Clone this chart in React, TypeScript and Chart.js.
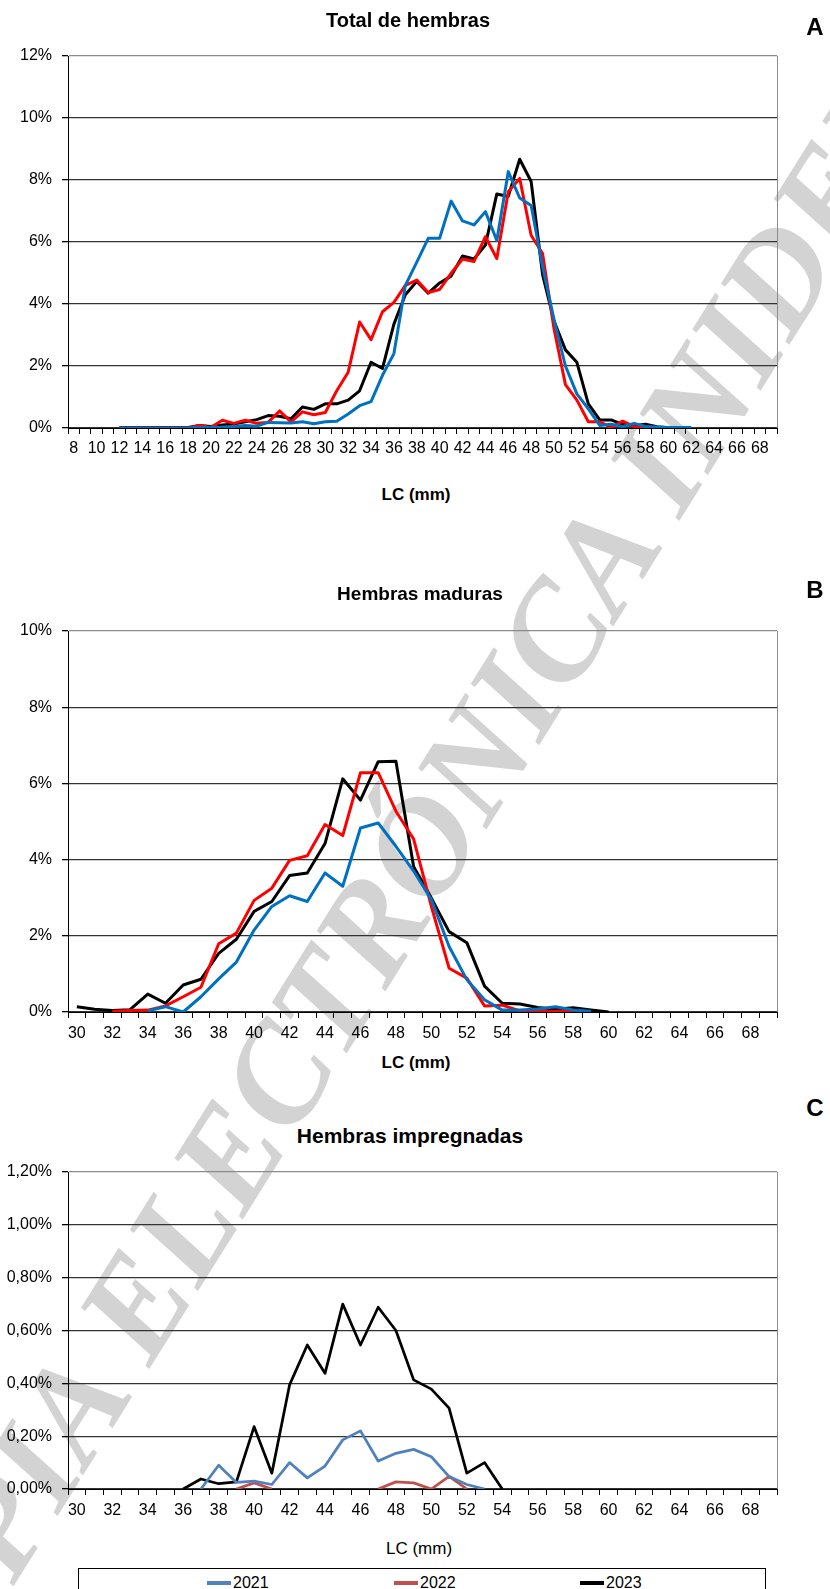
import React, { useEffect, useRef } from 'react';
import { Chart, registerables } from 'chart.js';

Chart.register(...registerables);

const FONT = '"Liberation Sans", Arial, Helvetica, sans-serif';

// Carapace length classes (mm)
const lcTotal = [
  8, 9, 10, 11, 12, 13, 14, 15, 16, 17, 18, 19, 20, 21, 22, 23, 24, 25, 26, 27, 28,
  29, 30, 31, 32, 33, 34, 35, 36, 37, 38, 39, 40, 41, 42, 43, 44, 45, 46, 47, 48,
  49, 50, 51, 52, 53, 54, 55, 56, 57, 58, 59, 60, 61, 62, 63, 64, 65, 66, 67, 68, 69,
];
const lcAdult = [
  30, 31, 32, 33, 34, 35, 36, 37, 38, 39, 40, 41, 42, 43, 44, 45, 46, 47, 48, 49,
  50, 51, 52, 53, 54, 55, 56, 57, 58, 59, 60, 61, 62, 63, 64, 65, 66, 67, 68, 69,
];

// A - Total de hembras (% per class, from LC 8 to 69)
const total2021 = [
  null, null, null, null, 0, 0, 0, 0, 0, 0, 0, 0.02, 0.02, 0.03, 0.05, 0.08, 0.06,
  0.18, 0.17, 0.16, 0.2, 0.14, 0.2, 0.22, 0.45, 0.72, 0.85, 1.7, 2.4, 4.6, 5.35,
  6.12, 6.12, 7.32, 6.68, 6.55, 6.98, 6.05, 8.27, 7.42, 7.18, 5.2, 3.5, 2.0, 1.1,
  0.62, 0.08, 0.12, 0.05, 0.15, 0.05, 0.03, 0.02, 0.02, 0.02, null, null, null,
  null, null, null, null,
];
const total2022 = [
  null, null, null, null, 0, 0, 0, 0, 0, 0, 0, 0.08, 0.02, 0.25, 0.15, 0.25, 0.15,
  0.18, 0.55, 0.2, 0.52, 0.43, 0.5, 1.2, 1.8, 3.42, 2.85, 3.75, 4.05, 4.6, 4.77,
  4.37, 4.47, 4.99, 5.45, 5.37, 6.17, 5.47, 7.62, 8.05, 6.22, 5.63, 3.2, 1.4, 0.9,
  0.2, 0.2, 0.02, 0.22, 0.05, 0.04, 0.01, null, null, null, null, null, null, null,
  null, null, null,
];
const total2023 = [
  null, null, null, null, 0.02, 0.02, 0.02, 0.02, 0.02, 0.02, 0.02, 0.08, 0.05, 0.1,
  0.13, 0.2, 0.27, 0.4, 0.38, 0.3, 0.68, 0.6, 0.78, 0.78, 0.9, 1.2, 2.12, 1.92,
  3.35, 4.3, 4.73, 4.35, 4.68, 4.9, 5.55, 5.45, 5.9, 7.55, 7.47, 8.67, 7.95, 4.95,
  3.45, 2.52, 2.12, 0.78, 0.26, 0.26, 0.12, 0.07, 0.12, 0.04, 0.01, 0.01, null, null,
  null, null, null, null, null, null,
];

// B - Hembras maduras (% per class, from LC 30 to 69)
const mature2021 = [
  null, null, null, null, 0.03, 0.14, 0, 0.4, 0.87, 1.31, 2.15, 2.77, 3.05, 2.9,
  3.65, 3.3, 4.83, 4.96, 4.35, 3.7, 2.95, 1.72, 0.85, 0.32, 0.05, 0.05, 0.08, 0.14,
  0.05, 0.02, null, null, null, null, null, null, null, null, null, null,
];
const mature2022 = [
  null, null, 0.02, 0.04, 0.05, 0.16, 0.4, 0.65, 1.79, 2.07, 2.93, 3.25, 3.98, 4.1,
  4.92, 4.63, 6.28, 6.28, 5.27, 4.54, 2.77, 1.15, 0.89, 0.16, 0.18, 0.03, 0.02, 0.02,
  0.03, 0, null, null, null, null, null, null, null, null, null, null,
];
const mature2023 = [
  0.14, 0.07, 0.04, 0.06, 0.47, 0.23, 0.71, 0.86, 1.54, 1.91, 2.64, 2.9, 3.58, 3.65,
  4.42, 6.12, 5.56, 6.57, 6.58, 3.81, 2.99, 2.11, 1.82, 0.68, 0.23, 0.21, 0.12, 0.07,
  0.11, 0.05, 0, null, null, null, null, null, null, null, null, null,
];

// C - Hembras impregnadas (% per class, from LC 30 to 69)
const pregnant2021 = [
  null, null, null, null, null, null, null, 0, 0.09, 0.025, 0.03, 0.017, 0.1, 0.042,
  0.087, 0.186, 0.22, 0.106, 0.135, 0.15, 0.122, 0.047, 0.017, 0, null, null, null,
  null, null, null, null, null, null, null, null, null, null, null, null, null,
];
const pregnant2022 = [
  null, null, null, null, null, null, null, null, null, 0, 0.023, 0, null, null, null,
  null, null, 0, 0.027, 0.023, 0, 0.048, 0, null, null, null, null, null, null, null,
  null, null, null, null, null, null, null, null, null, null,
];
const pregnant2023 = [
  null, null, null, null, null, null, 0, 0.038, 0.02, 0.027, 0.236, 0.06, 0.394, 0.545,
  0.438, 0.7, 0.545, 0.688, 0.6, 0.413, 0.378, 0.306, 0.06, 0.1, 0, null, null, null,
  null, null, null, null, null, null, null, null, null, null, null, null,
];

const years = ['2021', '2022', '2023'];
const colorsAB = ['#0070c0', '#ff0000', '#000000'];
const colorsC = ['#4f81bd', '#c0504d', '#000000'];

const pctInt = (v: number) => `${Math.round(v)}%`;
const pctDec = (v: number) => `${v.toFixed(2).replace('.', ',')}%`;

// Grey right-hand edge of the plot area
const frame = {
  id: 'frame',
  beforeDatasetsDraw(chart: any) {
    const { ctx, chartArea: a } = chart;
    ctx.save();
    ctx.strokeStyle = '#8c8c8c';
    ctx.lineWidth = 1;
    const x = Math.round(a.right) + 0.5;
    ctx.beginPath();
    ctx.moveTo(x, a.top);
    ctx.lineTo(x, a.bottom);
    ctx.stroke();
    ctx.restore();
  },
};

type PanelProps = {
  top: number;
  height: number;
  padTop: number;
  axisH: number;
  tickPad: number;
  labels: number[];
  series: (number | null)[][];
  colors: string[];
  lineWidth: number;
  yMax: number;
  yStep: number;
  fmt: (v: number) => string;
};

function Panel(p: PanelProps) {
  const ref = useRef<HTMLCanvasElement>(null);
  useEffect(() => {
    const chart = new Chart(ref.current as HTMLCanvasElement, {
      type: 'line',
      data: {
        labels: p.labels.map(String),
        datasets: p.series.map((data, i) => ({
          label: years[i],
          data,
          borderColor: p.colors[i],
          backgroundColor: p.colors[i],
          borderWidth: p.lineWidth,
          pointRadius: 0,
          pointHoverRadius: 0,
          tension: 0,
          fill: false,
          spanGaps: false,
          borderJoinStyle: 'round',
        })),
      },
      options: {
        animation: false,
        responsive: false,
        devicePixelRatio: 1,
        events: [],
        layout: { padding: { top: p.padTop, right: 53, bottom: 0, left: 0 } },
        plugins: {
          legend: { display: false },
          tooltip: { enabled: false },
          title: { display: false },
        },
        scales: {
          x: {
            type: 'category',
            offset: true,
            grid: {
              offset: true,
              drawOnChartArea: false,
              drawTicks: true,
              tickLength: 6,
              color: '#000',
              lineWidth: 1,
            },
            border: { display: true, color: '#000', width: 1 },
            ticks: {
              autoSkip: false,
              maxRotation: 0,
              minRotation: 0,
              padding: p.tickPad,
              color: '#000',
              font: { family: FONT, size: 16 },
              callback: (_v: any, i: number) =>
                p.labels[i] % 2 === 0 ? String(p.labels[i]) : '',
            },
            afterFit: (s: any) => {
              s.height = p.axisH;
            },
          },
          y: {
            min: 0,
            max: p.yMax,
            ticks: {
              stepSize: p.yStep,
              padding: 10,
              color: '#000',
              font: { family: FONT, size: 16 },
              callback: (v: any) => p.fmt(Number(v)),
            },
            grid: {
              color: (ctx: any) =>
                ctx.tick && Math.abs(ctx.tick.value - p.yMax) < 1e-6 ? '#8c8c8c' : '#333333',
              tickColor: '#000',
              tickLength: 6,
              lineWidth: 1.3,
            },
            border: { display: true, color: '#000', width: 1 },
            afterFit: (s: any) => {
              s.width = 68;
            },
          },
        },
      },
      plugins: [frame],
    } as any);
    return () => chart.destroy();
  }, []);
  return (
    <canvas
      ref={ref}
      width={830}
      height={p.height}
      style={{ position: 'absolute', left: 0, top: p.top, width: 830, height: p.height, zIndex: 1 }}
    />
  );
}

function Label(props: { x: number; y: number; size: number; bold?: boolean; text: string }) {
  return (
    <div
      style={{
        position: 'absolute',
        left: props.x,
        top: props.y,
        transform: 'translate(-50%, -50%)',
        whiteSpace: 'nowrap',
        fontFamily: FONT,
        fontSize: props.size,
        fontWeight: props.bold ? 'bold' : 'normal',
        color: '#000',
        lineHeight: 1,
        zIndex: 2,
      }}
    >
      {props.text}
    </div>
  );
}

function LegendItem(props: { x: number; color: string; text: string }) {
  return (
    <>
      <div
        style={{
          position: 'absolute',
          left: props.x,
          top: 12,
          width: 24,
          height: 4,
          background: props.color,
        }}
      />
      <div
        style={{
          position: 'absolute',
          left: props.x + 26,
          top: 5,
          fontFamily: FONT,
          fontSize: 16,
          lineHeight: '18px',
          color: '#000',
          whiteSpace: 'nowrap',
        }}
      >
        {props.text}
      </div>
    </>
  );
}

export default function App() {
  return (
    <div
      style={{
        position: 'absolute',
        left: 0,
        top: 0,
        width: 830,
        height: 1589,
        overflow: 'hidden',
        background: '#fff',
      }}
    >
      <div
        style={{
          position: 'absolute',
          left: 385,
          top: 905,
          transform: 'translate(-50%, -50%) rotate(-58deg)',
          whiteSpace: 'nowrap',
          fontFamily: '"Liberation Serif", "DejaVu Serif", serif',
          fontStyle: 'italic',
          fontWeight: 'bold',
          fontSize: 138,
          lineHeight: 1,
          color: '#d3d3d3',
          zIndex: 0,
        }}
      >
        COPIA ELECTRÓNICA INIDEP
      </div>

      <Label x={408} y={20} size={20} bold text="Total de hembras" />
      <Label x={815} y={27} size={24} bold text="A" />
      <Panel
        top={0}
        height={480}
        padTop={56}
        axisH={52}
        tickPad={5}
        labels={lcTotal}
        series={[total2021, total2022, total2023]}
        colors={colorsAB}
        lineWidth={3}
        yMax={12}
        yStep={2}
        fmt={pctInt}
      />
      <Label x={416} y={494} size={17} bold text="LC (mm)" />

      <Label x={420} y={593} size={19} bold text="Hembras maduras" />
      <Label x={815} y={590} size={24} bold text="B" />
      <Panel
        top={570}
        height={480}
        padTop={61}
        axisH={38}
        tickPad={6}
        labels={lcAdult}
        series={[mature2021, mature2022, mature2023]}
        colors={colorsAB}
        lineWidth={3}
        yMax={10}
        yStep={2}
        fmt={pctInt}
      />
      <Label x={416} y={1062} size={17} bold text="LC (mm)" />

      <Label x={410} y={1135} size={21} bold text="Hembras impregnadas" />
      <Label x={815} y={1108} size={24} bold text="C" />
      <Panel
        top={1150}
        height={380}
        padTop={22}
        axisH={41}
        tickPad={6}
        labels={lcAdult}
        series={[pregnant2021, pregnant2022, pregnant2023]}
        colors={colorsC}
        lineWidth={2.75}
        yMax={1.2}
        yStep={0.2}
        fmt={pctDec}
      />
      <Label x={419} y={1548} size={17} text="LC (mm)" />

      <div
        style={{
          position: 'absolute',
          left: 78,
          top: 1568,
          width: 688,
          height: 40,
          border: '1px solid #000',
          boxSizing: 'border-box',
          background: '#fff',
          zIndex: 2,
        }}
      >
        <LegendItem x={128} color={colorsC[0]} text={years[0]} />
        <LegendItem x={315} color={colorsC[1]} text={years[1]} />
        <LegendItem x={501} color={colorsC[2]} text={years[2]} />
      </div>
    </div>
  );
}
